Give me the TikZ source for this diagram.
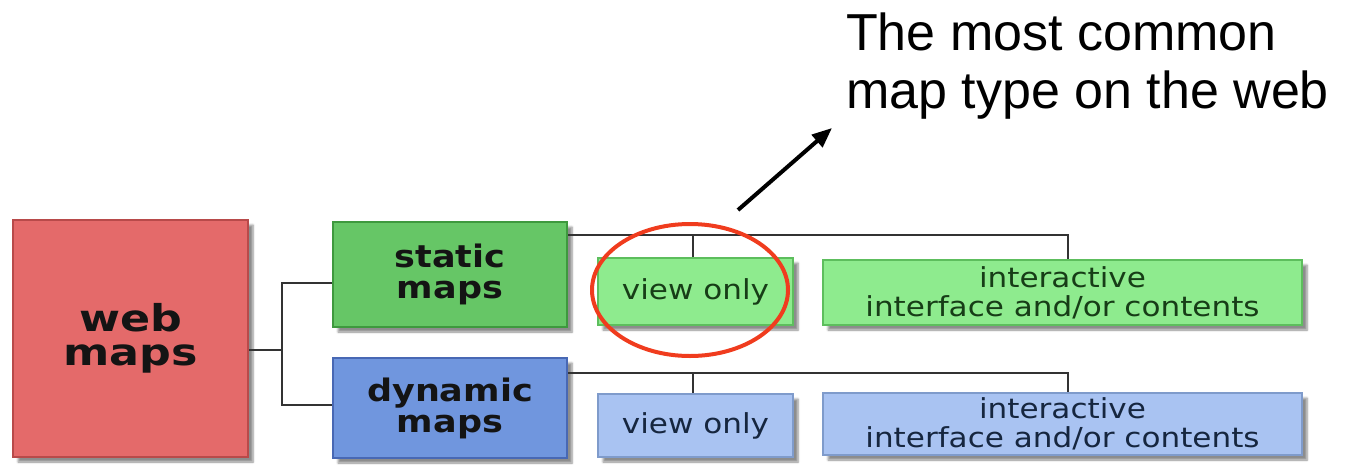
\documentclass[tikz,border=0pt]{standalone}
\usepackage{fontspec}
\setmainfont{Liberation Sans}
\newfontfamily\boxfont[FakeStretch=1.13]{DejaVu Sans}
\newfontfamily\webfont[FakeStretch=1.2]{DejaVu Sans}
\usetikzlibrary{shapes.geometric,shadows.blur,arrows.meta,calc}
\definecolor{redfill}{HTML}{E46A6A}
\definecolor{redline}{HTML}{B84A4A}
\definecolor{gfill}{HTML}{66C666}
\definecolor{gline}{HTML}{3E993E}
\definecolor{bfill}{HTML}{7096DE}
\definecolor{bline}{HTML}{4868B4}
\definecolor{lgfill}{HTML}{8EEB8E}
\definecolor{lgline}{HTML}{5DBE5D}
\definecolor{lbfill}{HTML}{A9C3F2}
\definecolor{lbline}{HTML}{7F9BCB}
\definecolor{gtext}{HTML}{173D17}
\definecolor{btext}{HTML}{16263F}
\definecolor{connc}{HTML}{333333}
\definecolor{ringc}{HTML}{F03C1E}
\tikzset{
  box/.style={rectangle, inner sep=0pt, line width=2pt, align=center,
    blur shadow={shadow xshift=5pt, shadow yshift=-5pt, shadow blur steps=6, shadow opacity=45}},
  bigtext/.style={font=\webfont\bfseries\fontsize{37}{34}\selectfont, text=black!92},
  midtext/.style={font=\boxfont\bfseries\fontsize{31}{31}\selectfont, text=black!92},
  smalltext/.style={font=\boxfont\fontsize{27.5}{29}\selectfont},
  conn/.style={draw=connc, line width=2.8pt},
}
\begin{document}
\begin{tikzpicture}[x=1pt,y=-1pt]
\useasboundingbox (0,0) rectangle (1346,464);
% boxes
\node[box, bigtext, fill=redfill, draw=redline, minimum width=235, minimum height=237] (web) at (130.5,338.5) {web\\maps};
\node[box, midtext, fill=gfill, draw=gline, minimum width=234, minimum height=105] (static) at (450,274.5) {static\\maps};
\node[box, midtext, fill=bfill, draw=bline, minimum width=234, minimum height=100] (dynamic) at (450,408) {dynamic\\maps};
\node[box, smalltext, text=gtext, fill=lgfill, draw=lgline, minimum width=195, minimum height=67] (view1) at (695.5,291.5) {view only};
\node[box, smalltext, text=gtext, fill=lgfill, draw=lgline, minimum width=479, minimum height=65] (inter1) at (1062.5,292.5) {interactive\\interface and/or contents};
\node[box, smalltext, text=btext, fill=lbfill, draw=lbline, minimum width=195, minimum height=63] (view2) at (695.5,425.5) {view only};
\node[box, smalltext, text=btext, fill=lbfill, draw=lbline, minimum width=479, minimum height=62] (inter2) at (1062.5,424) {interactive\\interface and/or contents};
% connectors
\coordinate (j) at (282,350);
\draw[conn] (web.east |- j) -- (j);
\draw[conn] ($(static.west)+(0,8.5)$) -| (j) |- ($(dynamic.west)+(0,-3)$);
\coordinate (t1) at ($(static.east)+(0,-39.5)$);
\coordinate (d1) at ($(view1.north)+(-2.5,0)$);
\draw[conn] (t1) -| ($(inter1.north)+(5.5,0)$);
\draw[conn] (d1) -- (d1 |- t1);
\coordinate (t2) at ($(dynamic.east)+(0,-35)$);
\coordinate (d2) at ($(view2.north)+(-2.5,0)$);
\draw[conn] (t2) -| ($(inter2.north)+(5.5,0)$);
\draw[conn] (d2) -- (d2 |- t2);
% highlight ring
\node[ellipse, draw=ringc, line width=4pt, minimum width=196, minimum height=132, inner sep=0pt] (ring) at (690,290) {};
% annotation
\node[anchor=north west, inner sep=0pt, align=left, font=\fontsize{52}{58}\selectfont] (note) at (846,13) {The most common\\map type on the web};
\coordinate (atail) at (738,210);
\coordinate (ahead) at (832,128);
\draw[line width=4pt, -{Triangle[length=20pt,width=16pt]}] (atail) -- (ahead);
\end{tikzpicture}
\end{document}
